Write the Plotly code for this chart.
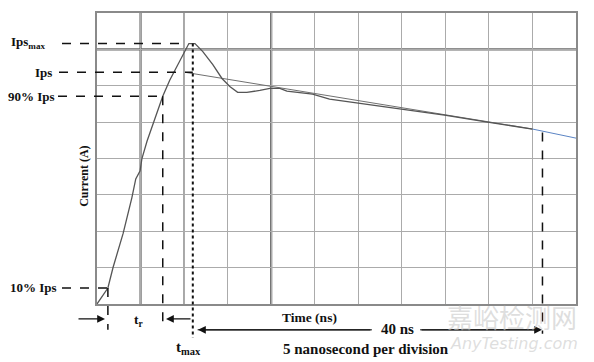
import plotly.graph_objects as go

# ---- data (units: x in divisions of 5 ns, y in vertical divisions) ----
t_div = [0.00, 0.11, 0.25, 0.37, 0.53, 0.60, 0.80, 0.89, 0.99, 1.03, 1.15, 1.33, 1.51,
         1.67, 1.90, 2.02, 2.11, 2.25, 2.43, 2.66, 2.87, 3.05, 3.23, 3.44, 3.74, 3.97,
         4.20, 4.36, 4.95, 5.34, 6.49, 7.98, 8.97, 10.00]
current = [0.00, 0.19, 0.44, 1.01, 1.67, 1.94, 2.92, 3.44, 3.66, 3.99, 4.48, 5.11, 5.71,
           6.15, 6.67, 6.94, 7.16, 7.16, 6.94, 6.58, 6.20, 5.98, 5.82, 5.82, 5.87, 5.93,
           5.93, 5.85, 5.77, 5.63, 5.44, 5.19, 5.00, 4.81]
fit_t = [2.02, 10.00]
fit_i = [6.37, 4.81]
ext_t = [10.00, 11.00]
ext_i = [4.81, 4.56]

levels = {"Ipsmax": 7.16, "Ips": 6.37, "90% Ips": 5.71, "10% Ips": 0.44}
t10, t90, tmax, tend = 0.25, 1.51, 2.20, 10.23

X_DIV, Y_DIV = 11, 8
OFF = 8                      # page body margin of the html
W, H = 594 - OFF, 362 - OFF
PL, PR, PT, PB = 97, 576, 11, 304   # plot area in page pixels
L, T = PL - OFF, PT - OFF
R, B = W - (PR - OFF), H - (PB - OFF)
PW, PH = PR - PL, PB - PT

def xp(px):  # page pixel -> paper
    return (px - PL) / PW
def yp(py):
    return (PB - py) / PH
def dx(v):  # data -> paper
    return v / X_DIV
def dy(v):
    return v / Y_DIV

fig = go.Figure()
fig.add_trace(go.Scatter(x=fit_t, y=fit_i, mode="lines",
                         line=dict(color="#707070", width=1), hoverinfo="skip"))
fig.add_trace(go.Scatter(x=ext_t, y=ext_i, mode="lines",
                         line=dict(color="#5b84c4", width=1), hoverinfo="skip"))
fig.add_trace(go.Scatter(x=t_div, y=current, mode="lines",
                         line=dict(color="#555555", width=1.3), hoverinfo="skip"))

shapes = []
# heavier grid lines
for xv in (1, 4):
    shapes.append(dict(type="line", xref="x", yref="y", x0=xv, x1=xv, y0=0, y1=Y_DIV,
                       line=dict(color="#6a6a6a", width=2.2), layer="below"))
shapes.append(dict(type="line", xref="x", yref="y", x0=0, x1=X_DIV, y0=7, y1=7,
                   line=dict(color="#6a6a6a", width=2.4), layer="below"))
shapes.append(dict(type="line", xref="x", yref="y", x0=2, x1=2, y0=0, y1=Y_DIV,
                   line=dict(color="#858585", width=1.6), layer="below"))

dash = dict(color="#111111", width=1.5, dash="dash")
# horizontal level lines
starts = {"Ipsmax": 62, "Ips": 59, "90% Ips": 58, "10% Ips": 62}
ends = {"Ipsmax": dx(tmax) - 0.01, "Ips": dx(tmax), "90% Ips": dx(t90), "10% Ips": dx(t10)}
for k, v in levels.items():
    shapes.append(dict(type="line", xref="paper", yref="paper", x0=xp(starts[k]), x1=ends[k],
                       y0=dy(v), y1=dy(v), line=dash))
# vertical markers
shapes.append(dict(type="line", xref="paper", yref="paper", x0=dx(t10), x1=dx(t10),
                   y0=dy(levels["10% Ips"]), y1=yp(330), line=dash))
shapes.append(dict(type="line", xref="paper", yref="paper", x0=dx(t90), x1=dx(t90),
                   y0=dy(levels["90% Ips"]), y1=yp(328), line=dash))
shapes.append(dict(type="line", xref="paper", yref="paper", x0=dx(tmax), x1=dx(tmax),
                   y0=dy(levels["Ipsmax"]), y1=yp(338),
                   line=dict(color="#111111", width=2, dash="dot")))
shapes.append(dict(type="line", xref="paper", yref="paper", x0=dx(tend), x1=dx(tend),
                   y0=dy(fit_i[1]) - 0.012, y1=yp(334), line=dash))
# arrow shafts for 40 ns
shapes.append(dict(type="line", xref="paper", yref="paper", x0=dx(tmax) + 0.01, x1=xp(372),
                   y0=yp(330), y1=yp(330), line=dict(color="#222", width=1)))
shapes.append(dict(type="line", xref="paper", yref="paper", x0=xp(420), x1=dx(tend) - 0.01,
                   y0=yp(330), y1=yp(330), line=dict(color="#222", width=1)))

fnt = dict(family="Liberation Serif", size=13, color="#111111")
big = dict(family="Liberation Serif", size=15, color="#111111")
ann = []
label_right = {"Ipsmax": 47, "Ips": 54, "90% Ips": 57, "10% Ips": 59}
label_text = {"Ipsmax": "Ips<sub>max</sub>", "Ips": "Ips", "90% Ips": "90% Ips", "10% Ips": "10% Ips"}
for k, v in levels.items():
    ann.append(dict(xref="paper", yref="paper", x=xp(label_right[k]), y=dy(v) + (0.005 if k == "Ipsmax" else 0),
                    xanchor="right", yanchor="middle", showarrow=False,
                    text="<b>%s</b>" % label_text[k], font=fnt))

def arrow(x0px, x1px, ypx):
    return dict(xref="paper", yref="paper",
                x=xp(x1px), y=yp(ypx), ax=x0px - x1px, ay=0, text="",
                showarrow=True, arrowhead=2, arrowsize=1.3, arrowwidth=1.2, arrowcolor="#111")

ann.append(arrow(77, 105, 319))
ann.append(arrow(192, 166, 319))
ann.append(arrow(372, 198, 330))
ann.append(arrow(420, 542, 330))

def label(xpx, ypx, text, font, angle=0):
    return dict(xref="paper", yref="paper", x=xp(xpx), y=yp(ypx), showarrow=False,
                xanchor="center", yanchor="middle", text=text, font=font, textangle=angle)

ann.append(label(138, 321, "<b>t<sub>r</sub></b>", dict(family="Liberation Serif", size=13.5, color="#111")))
ann.append(label(188, 348, "<b>t<sub>max</sub></b>", big))
ann.append(label(309, 318, "<b>Time (ns)</b>", dict(family="Liberation Serif", size=13.5, color="#111")))
ann.append(label(397, 329, "<b>40 ns</b>", big))
ann.append(label(366, 349, "<b>5 nanosecond per division</b>", big))
ann.append(label(84, 176, "<b>Current (A)</b>", dict(family="Liberation Serif", size=12, color="#111"), -90))
# watermark
ann.append(label(512, 317, "嘉峪检测网", dict(family="Noto Sans CJK SC", size=26, color="rgba(200,200,200,0.6)")))
ann.append(label(514, 344, "<i>AnyTesting.com</i>", dict(family="DejaVu Sans", size=16, color="rgba(200,200,200,0.6)")))

fig.update_layout(
    width=W, height=H, margin=dict(l=L, r=R, t=T, b=B),
    paper_bgcolor="white", plot_bgcolor="white", showlegend=False,
    shapes=shapes, annotations=ann,
    xaxis=dict(range=[0, X_DIV], dtick=1, tick0=0, showgrid=True, gridcolor="#ababab", gridwidth=1.2,
               showticklabels=False, ticks="", zeroline=False, showline=True, linecolor="#8a8a8a",
               linewidth=1.5, mirror=True, fixedrange=True),
    yaxis=dict(range=[0, Y_DIV], dtick=1, tick0=0, showgrid=True, gridcolor="#ababab", gridwidth=1.2,
               showticklabels=False, ticks="", zeroline=False, showline=True, linecolor="#8a8a8a",
               linewidth=1.5, mirror=True, fixedrange=True),
)
fig.write_html("out.html")
